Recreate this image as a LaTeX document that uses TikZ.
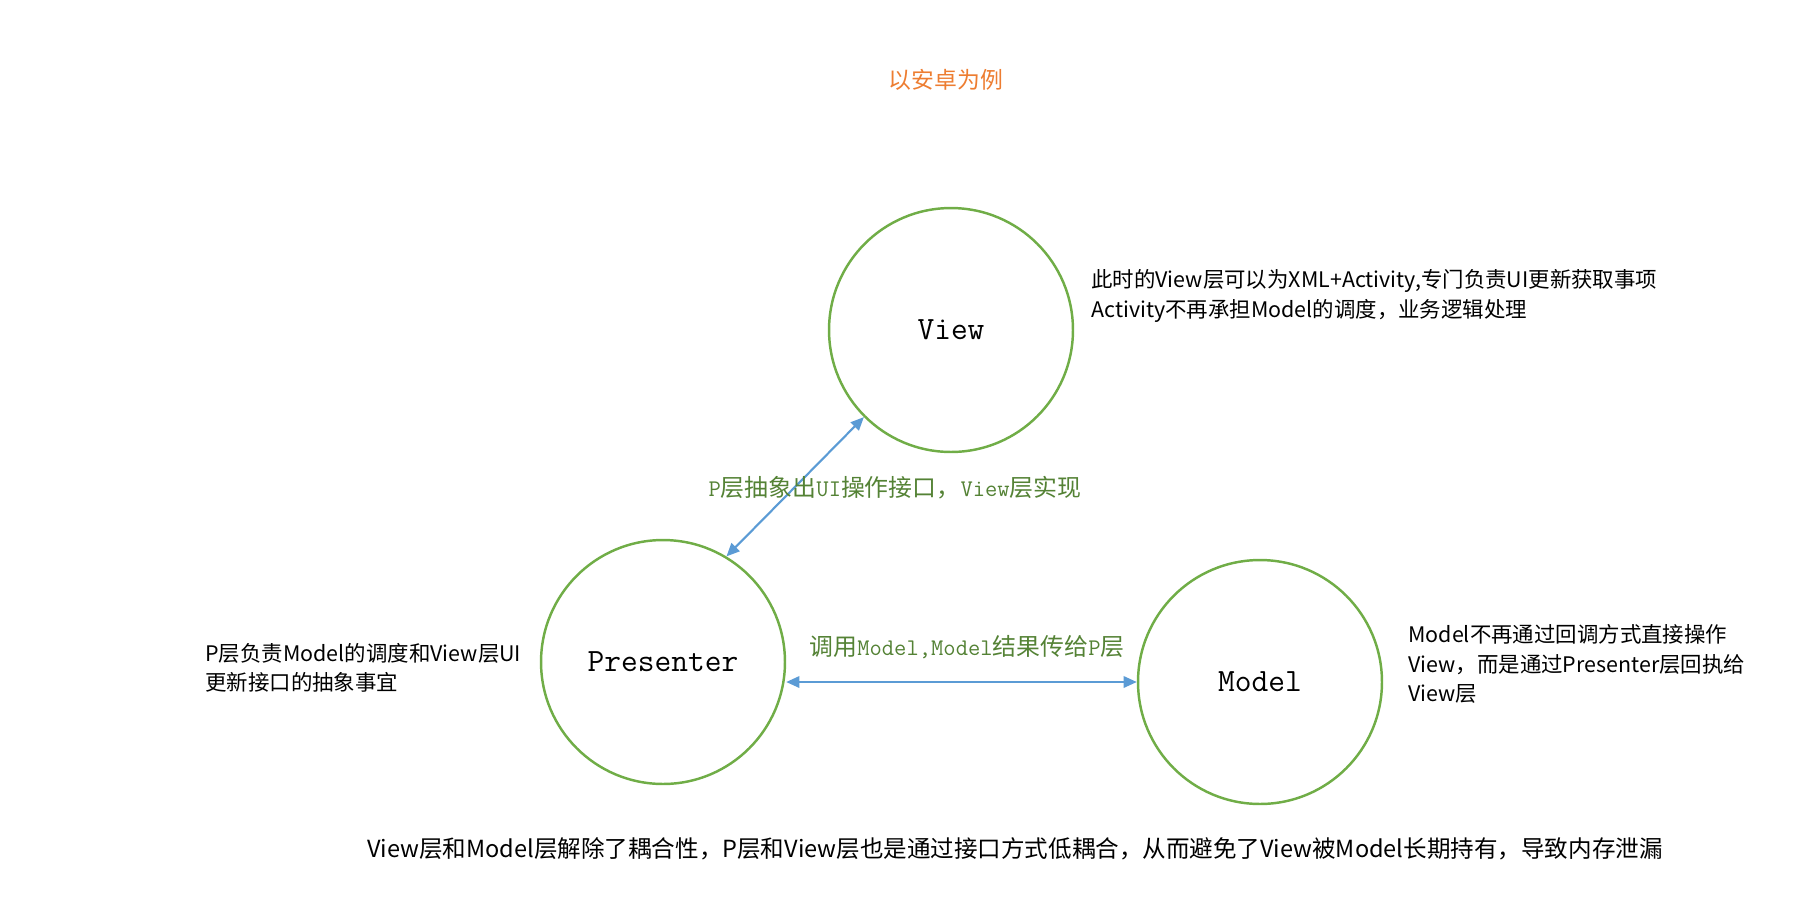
\documentclass[tikz,border=0pt]{standalone}
\usepackage{fontspec}
\setmainfont{Noto Sans CJK SC}
\usepackage{xcolor}
\usepackage{tikz}
\usetikzlibrary{positioning,arrows.meta}

\definecolor{ringgreen}{HTML}{70AD47}
\definecolor{linkblue}{HTML}{5B9BD5}
\definecolor{notegreen}{HTML}{548235}
\definecolor{titleorange}{HTML}{ED7D31}
\newcommand{\mono}[1]{{\fontspec{Latin Modern Mono}#1}}

\begin{document}
\begin{tikzpicture}[x=0.02cm, y=-0.02cm,
    layer/.style={circle, draw=ringgreen, line width=1.4pt, minimum size=4.88cm, inner sep=0pt, font=\fontsize{18.5}{20}\selectfont},
    arrow/.style={{Triangle[length=7.5pt,width=6.5pt]}-{Triangle[length=7.5pt,width=6.5pt]}, draw=linkblue, line width=1.2pt},
    edgenote/.style={text=notegreen, font=\fontsize{13.6}{16}\selectfont},
    note/.style={align=left, anchor=west, inner sep=0pt, font=\fontsize{12.2}{16.8}\selectfont}
]
\useasboundingbox (0,0) rectangle (1796,914);

% Title
\node[text=titleorange, font=\fontsize{13}{15}\selectfont] (title) at (946,80) {以安卓为例};

% Layers
\node[layer] (view) at (951,330) {\mono{View}};
\node[layer] (presenter) at (663,662) {\mono{Presenter}};
\node[layer] (model) at (1260,682) {\mono{Model}};

% Arrows
\draw[arrow] (presenter.59) -- (view.225);
\draw[arrow] (model.west -| presenter.east) -- (model.west);

% Arrow labels
\node[edgenote] (pv) at (895,488) {\mono{P}层抽象出\mono{UI}操作接口，\mono{View}层实现};
\node[edgenote] (pm) at (967,647) {调用\mono{Model,Model}结果传给\mono{P}层};

% Notes
\node[note] (viewnote) at (1091,296) {此时的View层可以为XML+Activity,专门负责UI更新获取事项\\Activity不再承担Model的调度，业务逻辑处理};
\node[note] (presenternote) at (205,668) {P层负责Model的调度和View层UI\\更新接口的抽象事宜};
\node[note] (modelnote) at (1408,664) {Model不再通过回调方式直接操作\\View，而是通过Presenter层回执给\\View层};
\node[font=\fontsize{13.4}{16}\selectfont] (summary) at (1015,849) {View层和Model层解除了耦合性，P层和View层也是通过接口方式低耦合，从而避免了View被Model长期持有，导致内存泄漏};

\end{tikzpicture}
\end{document}
